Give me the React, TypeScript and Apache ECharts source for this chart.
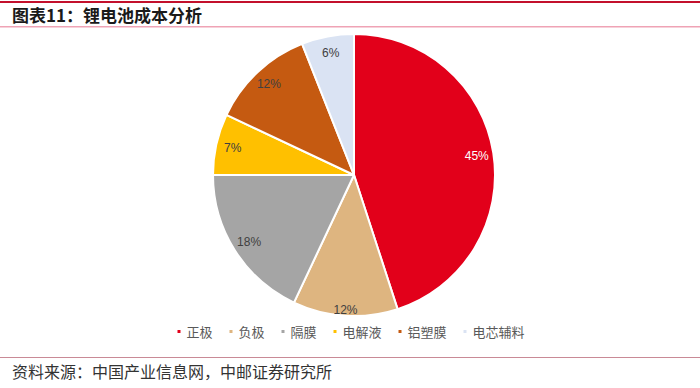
import React, { useEffect, useRef } from "react";
import * as echarts from "echarts";

const categories = ["正极", "负极", "隔膜", "电解液", "铝塑膜", "电芯辅料"];
const values = [45, 12, 18, 7, 12, 6];
const colors = ["#E2001A", "#DEB580", "#A5A5A5", "#FFC000", "#C55A11", "#DAE3F3"];
const labelColors = ["#FFFFFF", "#404040", "#404040", "#404040", "#404040", "#404040"];
const titleText = "图表11：锂电池成本分析";
const sourceText = "资料来源：中国产业信息网，中邮证券研究所";

export default function App() {
  const ref = useRef<HTMLDivElement>(null);
  useEffect(() => {
    if (!ref.current) return;
    const chart = echarts.init(ref.current, null, { renderer: "svg" });
    const center = [354, 175];
    const R = 141;
    const baseData = categories.map((name, i) => ({
      name,
      value: values[i],
      itemStyle: { color: colors[i] },
    }));
    const labelData = (showFn: (i: number) => boolean) =>
      categories.map((name, i) => ({
        name,
        value: values[i],
        itemStyle: { color: "rgba(0,0,0,0)" },
        label: { show: showFn(i), color: labelColors[i] },
      }));
    const labelCommon = {
      type: "pie" as const,
      center,
      startAngle: 90,
      clockwise: true,
      silent: true,
      legendHoverLink: false,
      itemStyle: { borderWidth: 0 },
      labelLine: { show: false },
      emphasis: { disabled: true },
      z: 5,
    };
    chart.setOption({
      animation: false,
      textStyle: { fontFamily: "'Liberation Sans', Arial, sans-serif" },
      legend: {
        data: categories,
        left: "center",
        top: 320,
        icon: "rect",
        itemWidth: 5,
        itemHeight: 5,
        itemGap: 15,
        textStyle: {
          fontFamily: "'Noto Sans CJK SC', sans-serif",
          fontSize: 13,
          color: "#595959",
        },
      },
      graphic: [
        { type: "rect", shape: { x: 0, y: 1, width: 700, height: 2 }, style: { fill: "#C3102C" } },
        { type: "rect", shape: { x: 0, y: 26, width: 700, height: 1.5 }, style: { fill: "#EFA3B5" } },
        { type: "rect", shape: { x: 0, y: 357, width: 700, height: 1 }, style: { fill: "#C98A96" } },
        {
          type: "text",
          x: 12,
          y: 14,
          style: {
            text: titleText,
            fontFamily: "'Noto Sans CJK SC', sans-serif",
            fontSize: 17,
            fontWeight: "bold",
            fill: "#1A1A1A",
            verticalAlign: "middle",
          },
        },
        {
          type: "text",
          x: 12,
          y: 371,
          style: {
            text: sourceText,
            fontFamily: "'Noto Sans CJK SC', sans-serif",
            fontSize: 16,
            fill: "#333333",
            verticalAlign: "middle",
          },
        },
      ],
      series: [
        {
          type: "pie",
          name: "cost",
          center,
          radius: [0, R],
          startAngle: 90,
          clockwise: true,
          data: baseData,
          itemStyle: { borderColor: "#FFFFFF", borderWidth: 2 },
          label: { show: false },
          labelLine: { show: false },
          emphasis: { disabled: true },
        },
        {
          ...labelCommon,
          name: "labels",
          radius: [0, R * 1.72],
          data: labelData((i) => i !== 1),
          label: {
            show: true,
            position: "inside",
            formatter: "{c}%",
            fontSize: 12,
            fontFamily: "'Liberation Sans', Arial, sans-serif",
          },
        },
        {
          ...labelCommon,
          name: "labels2",
          radius: [0, R * 1.88],
          data: labelData((i) => i === 1),
          label: {
            show: true,
            position: "inside",
            formatter: "{c}%",
            fontSize: 12,
            fontFamily: "'Liberation Sans', Arial, sans-serif",
          },
        },
      ],
    });
    return () => chart.dispose();
  }, []);
  return (
    <div
      ref={ref}
      style={{ position: "fixed", left: 0, top: 0, width: 700, height: 388, background: "#FFFFFF" }}
    />
  );
}
